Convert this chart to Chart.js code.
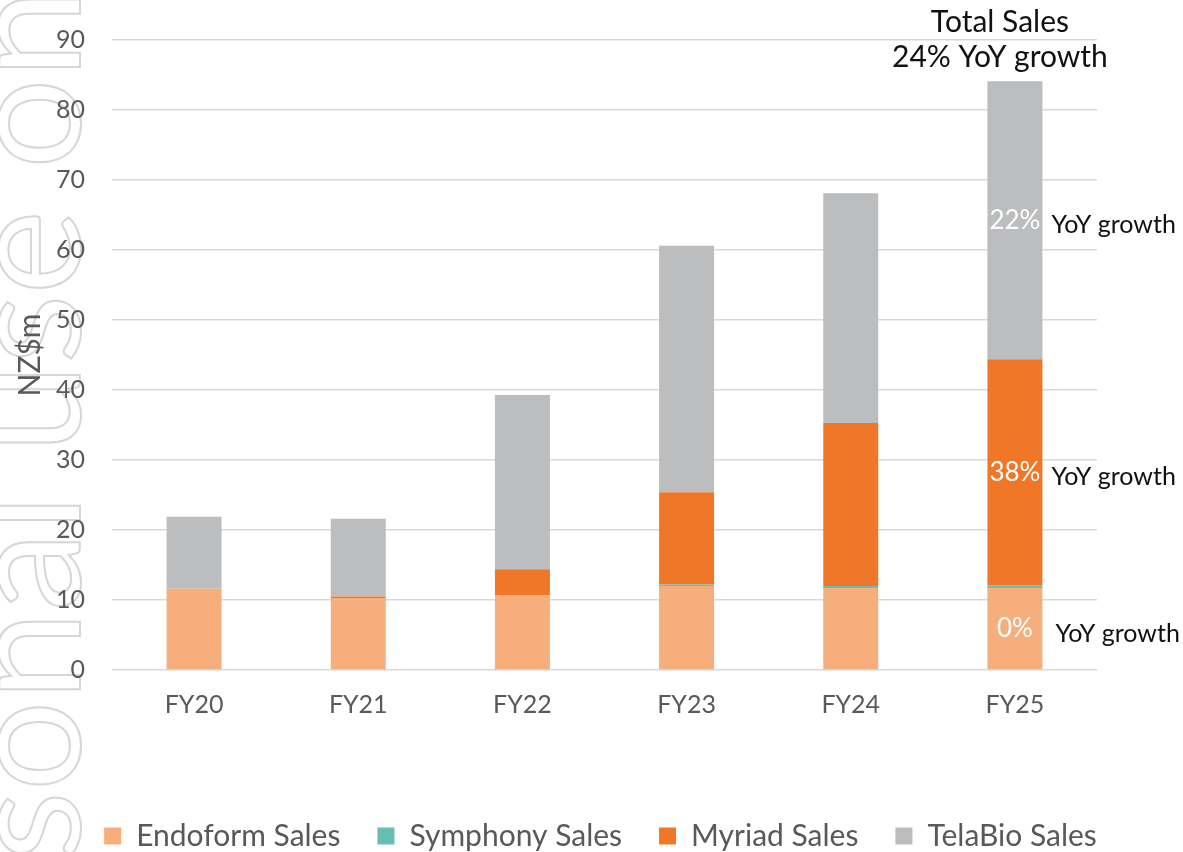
<!DOCTYPE html>
<html><head><meta charset="utf-8">
<script src="https://cdn.jsdelivr.net/npm/chart.js@4.4.1/dist/chart.umd.min.js"></script>
<style>html,body{margin:0;padding:0;background:#fff;overflow:hidden;} #wrap{width:1183px;height:852px;position:relative;}</style>
</head><body><div id="wrap"><canvas id="c" width="1183" height="852"></canvas></div>
<script>
const categories = ['FY20', 'FY21', 'FY22', 'FY23', 'FY24', 'FY25'];
const endoformSales = [11.6, 10.3, 10.7, 12.0, 11.7, 11.7];
const symphonySales = [0, 0, 0, 0.2, 0.3, 0.4];
const myriadSales = [0, 0.2, 3.7, 13.2, 23.3, 32.3];
const telabioSales = [10.3, 11.1, 24.9, 35.2, 32.8, 39.7];
const yTickValues = [0, 10, 20, 30, 40, 50, 60, 70, 80, 90];
const seriesNames = ['Endoform Sales', 'Symphony Sales', 'Myriad Sales', 'TelaBio Sales'];
const seriesColors = ['#F6AE7C', '#66BFB2', '#F07727', '#BCBDBF'];
const growthLabels = ['0%', null, '38%', '22%'];
const totalLabelLines = ['Total Sales', '24% YoY growth'];
const growthSuffix = 'YoY growth';
const watermarkText = 'For personal use only';

const FONT = 'Lato, "Open Sans", sans-serif';

const watermark = {
  id: 'watermark',
  beforeDraw(chart) {
    const ctx = chart.ctx;
    ctx.save();
    ctx.font = '400 160px ' + FONT;
    ctx.strokeStyle = '#d6d6d6';
    ctx.lineWidth = 2;
    ctx.translate(80, 860);
    ctx.rotate(-Math.PI / 2);
    const pre = ctx.measureText('For per').width;
    ctx.textBaseline = 'alphabetic';
    ctx.strokeText(watermarkText, -pre, 0);
    ctx.restore();
  }
};

const annotations = {
  id: 'annotations',
  afterDatasetsDraw(chart) {
    const ctx = chart.ctx;
    const idx = categories.length - 1;
    ctx.save();
    ctx.textBaseline = 'middle';
    growthLabels.forEach((lab, di) => {
      if (!lab) return;
      const el = chart.getDatasetMeta(di).data[idx];
      if (!el) return;
      const cy = (el.y + el.base) / 2;
      ctx.font = '26px ' + FONT;
      ctx.fillStyle = '#ffffff';
      ctx.textAlign = 'center';
      ctx.fillText(lab, el.x, cy);
      ctx.fillStyle = '#111111';
      ctx.textAlign = 'left';
      ctx.font = '25px ' + FONT;
      ctx.fillText(growthSuffix, el.x + el.width / 2 + (di === 0 ? 13 : 9), cy + 5);
    });
    const top = chart.getDatasetMeta(3).data[idx];
    ctx.font = '30px ' + FONT;
    ctx.fillStyle = '#111111';
    ctx.textAlign = 'center';
    ctx.fillText(totalLabelLines[0], top.x - 15, 22);
    ctx.fillText(totalLabelLines[1], top.x - 15, 57);
    ctx.restore();
  }
};

const moveLegend = {
  id: 'moveLegend',
  afterLayout(chart) {
    const lg = chart.legend;
    if (lg) {
      const dy = 9, dx = 52;
      lg.top += dy; lg.bottom += dy;
      lg.left += dx; lg.right += dx;
    }
  }
};

new Chart(document.getElementById('c'), {
  type: 'bar',
  data: {
    labels: categories,
    datasets: [endoformSales, symphonySales, myriadSales, telabioSales].map((d, i) => ({
      label: seriesNames[i],
      data: d,
      backgroundColor: seriesColors[i],
      borderWidth: 0,
      barPercentage: 0.335,
      categoryPercentage: 1.0
    }))
  },
  options: {
    responsive: false,
    animation: false,
    devicePixelRatio: 1,
    layout: { padding: { top: 40, right: 86, left: 0, bottom: 0 } },
    plugins: {
      tooltip: { enabled: false },
      legend: {
        position: 'bottom',
        labels: {
          font: { family: FONT, size: 30 },
          color: '#595959',
          boxWidth: 17,
          boxHeight: 17,
          padding: 37
        }
      }
    },
    scales: {
      x: {
        stacked: true,
        grid: { display: false, drawTicks: false },
        border: { display: false },
        ticks: { font: { family: FONT, size: 25 }, color: '#595959', padding: 20 },
        afterFit(s) {
          const lh = s.chart.legend ? s.chart.legend.height : 0;
          s.height = 852 - lh - 670;
        }
      },
      y: {
        stacked: true,
        min: 0, max: 90,
        afterBuildTicks(s) { s.ticks = yTickValues.map(v => ({ value: v })); },
        grid: { color: '#d9d9d9', lineWidth: 1.5, drawTicks: false },
        border: { display: false },
        ticks: { font: { family: FONT, size: 25 }, color: '#595959', padding: 27 },
        title: { display: true, text: 'NZ$m', font: { family: FONT, size: 30 }, color: '#595959', padding: { top: 12, bottom: 0 } },
        afterFit(s) { s.width = 112; s.paddingTop = 0; s.paddingBottom = 0; }
      }
    }
  },
  plugins: [watermark, annotations, moveLegend]
});
</script></body></html>
